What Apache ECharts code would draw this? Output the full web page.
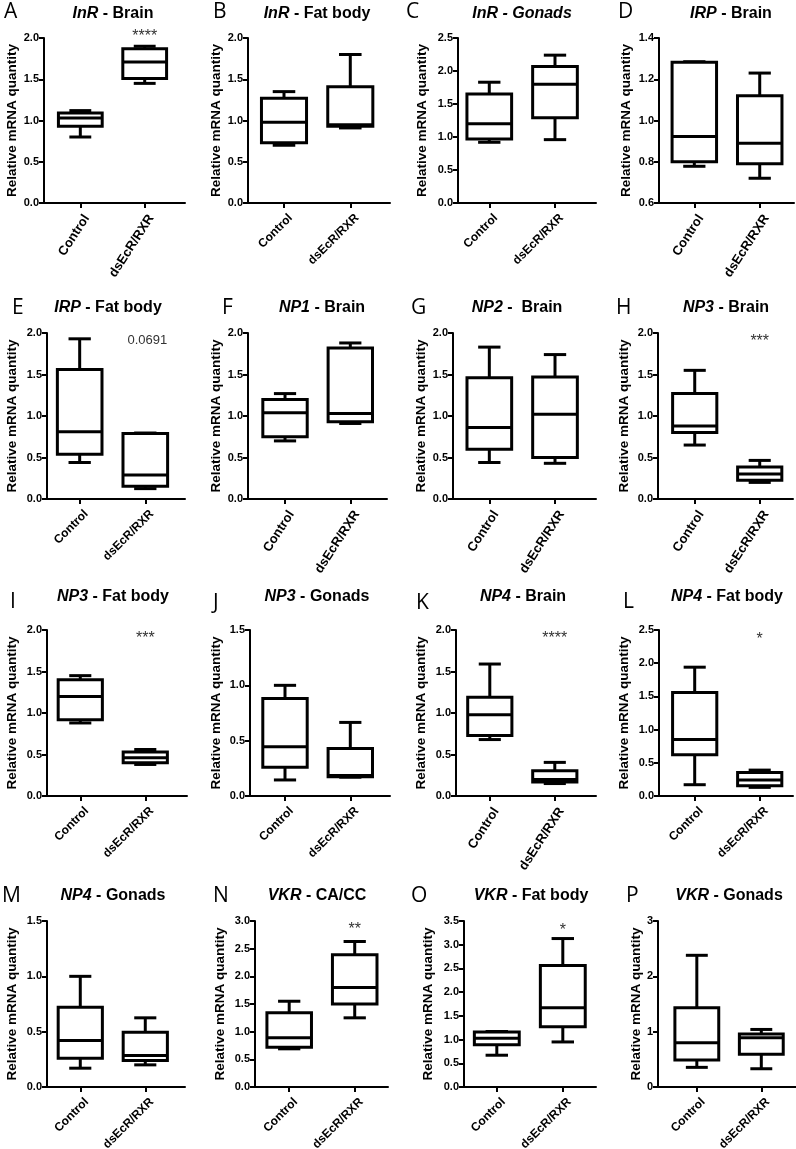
<!DOCTYPE html>
<html>
<head>
<meta charset="utf-8">
<title>Relative mRNA quantity – Control vs dsEcR/RXR</title>
<script src="https://cdn.jsdelivr.net/npm/echarts@6/dist/echarts.min.js"></script>
<style>
  html, body { margin: 0; padding: 0; background: #fff; }
  #chart { width: 796px; height: 1149px; }
</style>
</head>
<body>
<div id="chart"></div>
<script>
const categories   = ['Control', 'dsEcR/RXR']
const panelLetters = ['A','B','C','D','E','F','G','H','I','J','K','L','M','N','O','P']
const genes   = ['InR','InR','InR','IRP','IRP','NP1','NP2','NP3','NP3','NP3','NP4','NP4','NP4','VKR','VKR','VKR']
const tissues = [' - Brain',' - Fat body',' - Gonads',' - Brain',' - Fat body',' - Brain',' -  Brain',' - Brain',
                 ' - Fat body',' - Gonads',' - Brain',' - Fat body',' - Gonads',' - CA/CC',' - Fat body',' - Gonads']

// [min, Q1, median, Q3, max]
const controlBoxes = [
  [0.80, 0.93, 1.03, 1.09, 1.12],
  [0.70, 0.73, 0.98, 1.27, 1.35],
  [0.92, 0.97, 1.20, 1.65, 1.83],
  [0.778, 0.80, 0.923, 1.283, 1.285],
  [0.44, 0.54, 0.81, 1.56, 1.93],
  [0.70, 0.75, 1.04, 1.20, 1.27],
  [0.44, 0.60, 0.86, 1.46, 1.83],
  [0.65, 0.80, 0.88, 1.27, 1.55],
  [0.88, 0.92, 1.20, 1.40, 1.45],
  [0.145, 0.26, 0.445, 0.88, 1.00],
  [0.68, 0.73, 0.98, 1.19, 1.59],
  [0.17, 0.62, 0.85, 1.56, 1.94],
  [0.17, 0.26, 0.42, 0.72, 1.00],
  [0.69, 0.72, 0.89, 1.34, 1.55],
  [0.67, 0.89, 1.03, 1.16, 1.17],
  [0.355, 0.49, 0.80, 1.43, 2.38],
]
const treatedBoxes = [
  [1.45, 1.51, 1.71, 1.87, 1.90],
  [0.91, 0.93, 0.95, 1.41, 1.80],
  [0.96, 1.29, 1.80, 2.07, 2.24],
  [0.72, 0.79, 0.89, 1.12, 1.23],
  [0.125, 0.155, 0.29, 0.79, 0.795],
  [0.91, 0.93, 1.03, 1.82, 1.88],
  [0.43, 0.50, 1.02, 1.47, 1.74],
  [0.20, 0.225, 0.30, 0.385, 0.465],
  [0.38, 0.40, 0.46, 0.53, 0.56],
  [0.17, 0.175, 0.185, 0.43, 0.665],
  [0.15, 0.17, 0.20, 0.305, 0.405],
  [0.13, 0.155, 0.24, 0.355, 0.39],
  [0.20, 0.24, 0.285, 0.495, 0.625],
  [1.25, 1.50, 1.80, 2.39, 2.63],
  [0.95, 1.27, 1.67, 2.56, 3.13],
  [0.33, 0.59, 0.89, 0.96, 1.04],
]

const T20 = ['0.0','0.5','1.0','1.5','2.0']
const T25 = ['0.0','0.5','1.0','1.5','2.0','2.5']
const T15 = ['0.0','0.5','1.0','1.5']
const yTickLabels = [
  T20, T20, T25, ['0.6','0.8','1.0','1.2','1.4'],
  T20, T20, T20, T20,
  T20, T15, T20, T25,
  T15, ['0.0','0.5','1.0','1.5','2.0','2.5','3.0'], ['0.0','0.5','1.0','1.5','2.0','2.5','3.0','3.5'], ['0','1','2','3'],
]

const annotationText = ['****','','','','0.0691','','','***','***','','****','*','','**','*','']
const annotationY    = [2.06, null, null, null, 1.91, null, null, 1.94, 1.94, null, 1.94, 2.42, null, 2.91, 3.39, null]

// layout: [axis left, axis right, x min, x max, name gap, label rotation]
const axisBox = [
  [44, 185, -0.564, 1.626, 25, 57],
  [248, 390, -0.543, 1.599, 25, 45],
  [458, 596, -0.476, 1.624, 29, 45],
  [659, 794, -0.540, 1.524, 26, 57],
  [47, 185, -0.498, 1.605, 28, 45],
  [248, 387, -0.567, 1.562, 25, 57],
  [453, 596, -0.553, 1.624, 25, 57],
  [658, 793, -0.565, 1.512, 27, 57],
  [47, 187, -0.512, 1.642, 28, 45],
  [250, 390, -0.536, 1.608, 27, 45],
  [456, 596, -0.520, 1.634, 28, 57],
  [659, 793, -0.549, 1.512, 28, 45],
  [47, 185, -0.512, 1.611, 28, 45],
  [255, 388, -0.522, 1.508, 28, 45],
  [464, 596, -0.497, 1.503, 29, 45],
  [658, 796, -0.602, 1.538, 13, 45],
]
const rowTop  = [38, 333, 630, 921]
const rowZero = [203, 499, 796, 1087]
const titlePos = [[113,13],[317,13],[522,13],[731,13],[108,307],[322,307],[517,307],[726,307],
                  [113,596],[317,596],[523,596],[727,596],[113,895],[317,895],[531,895],[729,895]]
const letterPos = [[4,11],[213,11],[406,11],[618,11],[12,307],[222,307],[411,307],[616,307],
                   [10,601],[213,602],[416,602],[623,601],[2,895],[213,895],[411,895],[626,895]]

const FONT = '"Liberation Sans", Arial, sans-serif'
const W = 796, H = 1149

function renderBox(panel) {
  return function (params, api) {
    const xv = api.value(0)
    const pt = k => api.coord([xv, api.value(k)])
    const lo = pt(1), q1 = pt(2), md = pt(3), q3 = pt(4), hi = pt(5)
    const cx = lo[0]
    const unit = api.size([1, 0])[0]
    const hw = unit * 0.34, cw = unit * 0.17
    const st = { stroke: '#000', lineWidth: 3, fill: null }
    const seg = (x1, y1, x2, y2) => ({ type: 'line', shape: { x1, y1, x2, y2 }, style: st })
    const children = [
      seg(cx, q3[1], cx, hi[1]),
      seg(cx, q1[1], cx, lo[1]),
      seg(cx - cw, hi[1], cx + cw, hi[1]),
      seg(cx - cw, lo[1], cx + cw, lo[1]),
      { type: 'rect', shape: { x: cx - hw, y: q3[1], width: hw * 2, height: q1[1] - q3[1] },
        style: { stroke: '#000', lineWidth: 3, fill: '#fff' } },
      seg(cx - hw, md[1], cx + hw, md[1]),
    ]
    const txt = annotationText[panel]
    if (params.dataIndex === 1 && txt) {
      const p = api.coord([1, annotationY[panel]])
      const star = txt[0] === '*'
      children.push({
        type: 'text', x: p[0] + (star ? 0 : 2), y: p[1] + (star ? 4 : 0),
        style: { text: txt, fill: '#333', font: (star ? '16px ' : '13px ') + FONT, align: 'center', verticalAlign: 'middle' },
      })
    }
    return { type: 'group', children }
  }
}

const grids = [], xAxes = [], yAxes = [], series = [], graphics = []
const axisLineStyle = { color: '#000', width: 2 }

for (let i = 0; i < 16; i++) {
  const [L, R, xMin, xMax, gap, rot] = axisBox[i]
  const row = Math.floor(i / 4)
  const ticks = yTickLabels[i]
  const tickVals = ticks.map(Number)

  grids.push({ left: L, right: W - R, top: rowTop[row], bottom: H - rowZero[row], containLabel: false, outerBoundsMode: 'none' })

  xAxes.push({
    gridIndex: i, type: 'value', min: xMin, max: xMax,
    axisLine: { show: true, onZero: false, lineStyle: axisLineStyle },
    axisTick: { show: true, length: 5, customValues: [0, 1], lineStyle: axisLineStyle },
    axisLabel: {
      // labels sit a little right of their tick, as in the source figure
      customValues: [0.1, 1.1], formatter: v => categories[Math.round(v)],
      rotate: rot, margin: 13, color: '#000', fontFamily: FONT, fontWeight: 'bold', fontSize: rot > 50 ? 13 : 12,
    },
    splitLine: { show: false },
  })

  yAxes.push({
    gridIndex: i, type: 'value',
    min: tickVals[0], max: tickVals[tickVals.length - 1], interval: tickVals[1] - tickVals[0],
    axisLine: { show: true, onZero: false, lineStyle: axisLineStyle },
    axisTick: { show: true, length: 5, customValues: tickVals, lineStyle: axisLineStyle },
    axisLabel: {
      customValues: tickVals,
      formatter: v => ticks.find(t => Math.abs(Number(t) - v) < 1e-6) ?? '',
      margin: 5, color: '#000', fontFamily: FONT, fontWeight: 'bold', fontSize: 11,
    },
    splitLine: { show: false },
    name: 'Relative mRNA quantity', nameLocation: 'middle', nameGap: gap,
    nameTextStyle: { color: '#000', fontFamily: FONT, fontWeight: 'bold', fontSize: 13.5 },
  })

  series.push({
    type: 'custom', xAxisIndex: i, yAxisIndex: i, clip: false,
    renderItem: renderBox(i),
    encode: { x: 0, y: [1, 2, 3, 4, 5] },
    data: [[0, ...controlBoxes[i]], [1, ...treatedBoxes[i]]],
  })

  const italicAll = i === 2
  graphics.push({
    type: 'text', x: titlePos[i][0], y: titlePos[i][1] + 1,
    style: {
      text: `{g|${genes[i]}}{t|${tissues[i]}}`, align: 'center', verticalAlign: 'middle',
      rich: {
        g: { fontFamily: FONT, fontWeight: 'bold', fontStyle: 'italic', fontSize: 16, fill: '#000' },
        t: { fontFamily: FONT, fontWeight: 'bold', fontStyle: italicAll ? 'italic' : 'normal', fontSize: 16, fill: '#000' },
      },
    },
  })
  graphics.push({
    type: 'text', x: letterPos[i][0], y: letterPos[i][1] + 1,
    style: { text: panelLetters[i], font: '21px "Open Sans", sans-serif', fill: '#000', align: 'left', verticalAlign: 'middle' },
  })
}

const chart = echarts.init(document.getElementById('chart'), null, { renderer: 'canvas' })
chart.setOption({
  backgroundColor: '#fff',
  animation: false,
  grid: grids,
  xAxis: xAxes,
  yAxis: yAxes,
  series,
  graphic: { elements: graphics },
})
</script>
</body>
</html>
